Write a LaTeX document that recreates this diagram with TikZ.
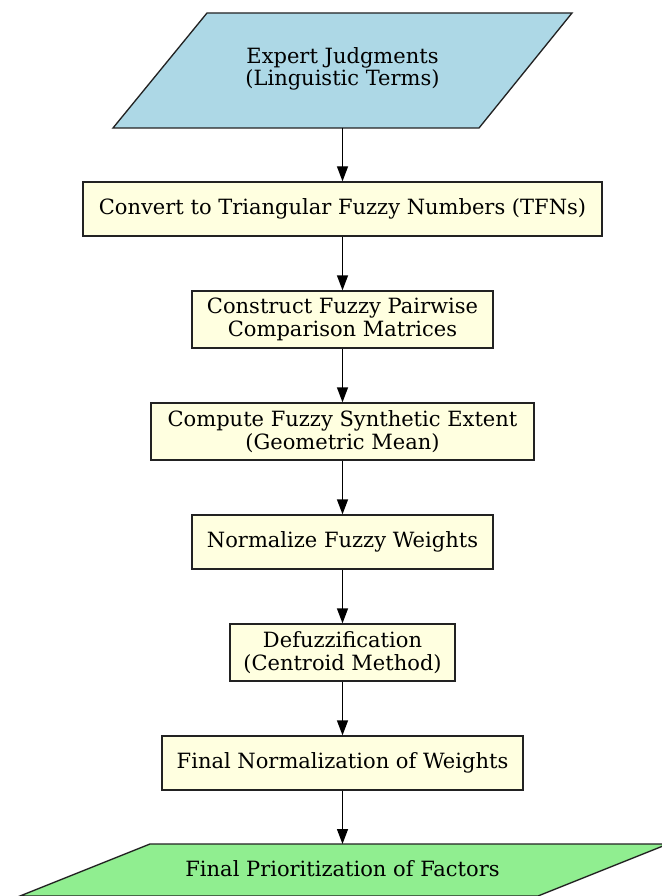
\documentclass[tikz,border=0pt]{standalone}
\usepackage{fontspec}
\setmainfont{DejaVu Serif}
\usetikzlibrary{arrows.meta}
\definecolor{lblue}{HTML}{ADD8E6}
\definecolor{lyellow}{HTML}{FFFFE0}
\definecolor{lgreen}{HTML}{90EE90}
\definecolor{edge}{HTML}{222222}
\tikzset{
  stepbox/.style={draw=edge, fill=lyellow, line width=1.33pt, inner sep=0pt, align=center, font=\fontsize{21}{22.5}\selectfont},
  iobox/.style={draw=edge, line width=1.33pt},
  iotext/.style={inner sep=0pt, align=center, font=\fontsize{21}{22.5}\selectfont},
  flow/.style={-{Triangle[length=15pt,width=11pt]}, line width=1.33pt, black},
}
\begin{document}
\begin{tikzpicture}[x=1pt,y=-1pt]
\useasboundingbox (0,0) rectangle (661,896);
% top input parallelogram
\draw[iobox, fill=lblue] (207,13) -- (572,13) -- (479,128) -- (113,128) -- cycle;
\node[iotext] (expert) at (342.5,69) {Expert Judgments\\(Linguistic Terms)};
\coordinate (expertS) at (342.5,128);
% process boxes
\node[stepbox, minimum width=519pt, minimum height=54pt] (tfn) at (342.5,209) {Convert to Triangular Fuzzy Numbers (TFNs)};
\node[stepbox, minimum width=301pt, minimum height=57pt] (pair) at (342.5,319.5) {Construct Fuzzy Pairwise\\Comparison Matrices};
\node[stepbox, minimum width=383pt, minimum height=57pt] (synth) at (342.5,431.5) {Compute Fuzzy Synthetic Extent\\(Geometric Mean)};
\node[stepbox, minimum width=301pt, minimum height=54pt] (norm) at (342.5,542) {Normalize Fuzzy Weights};
\node[stepbox, minimum width=225pt, minimum height=57pt] (defuzz) at (342.5,652.5) {Defuzzification\\(Centroid Method)};
\node[stepbox, minimum width=361pt, minimum height=54pt] (final) at (342.5,763) {Final Normalization of Weights};
% bottom output parallelogram
\draw[iobox, fill=lgreen] (150,844) -- (668,844) -- (538,896) -- (20,896) -- cycle;
\node[iotext] (prio) at (342.5,869) {Final Prioritization of Factors};
\coordinate (prioN) at (342.5,844);
% connectors
\draw[flow] (expertS) -- (tfn.north);
\draw[flow] (tfn) -- (pair);
\draw[flow] (pair) -- (synth);
\draw[flow] (synth) -- (norm);
\draw[flow] (norm) -- (defuzz);
\draw[flow] (defuzz) -- (final);
\draw[flow] (final.south) -- (prioN);
\end{tikzpicture}
\end{document}
